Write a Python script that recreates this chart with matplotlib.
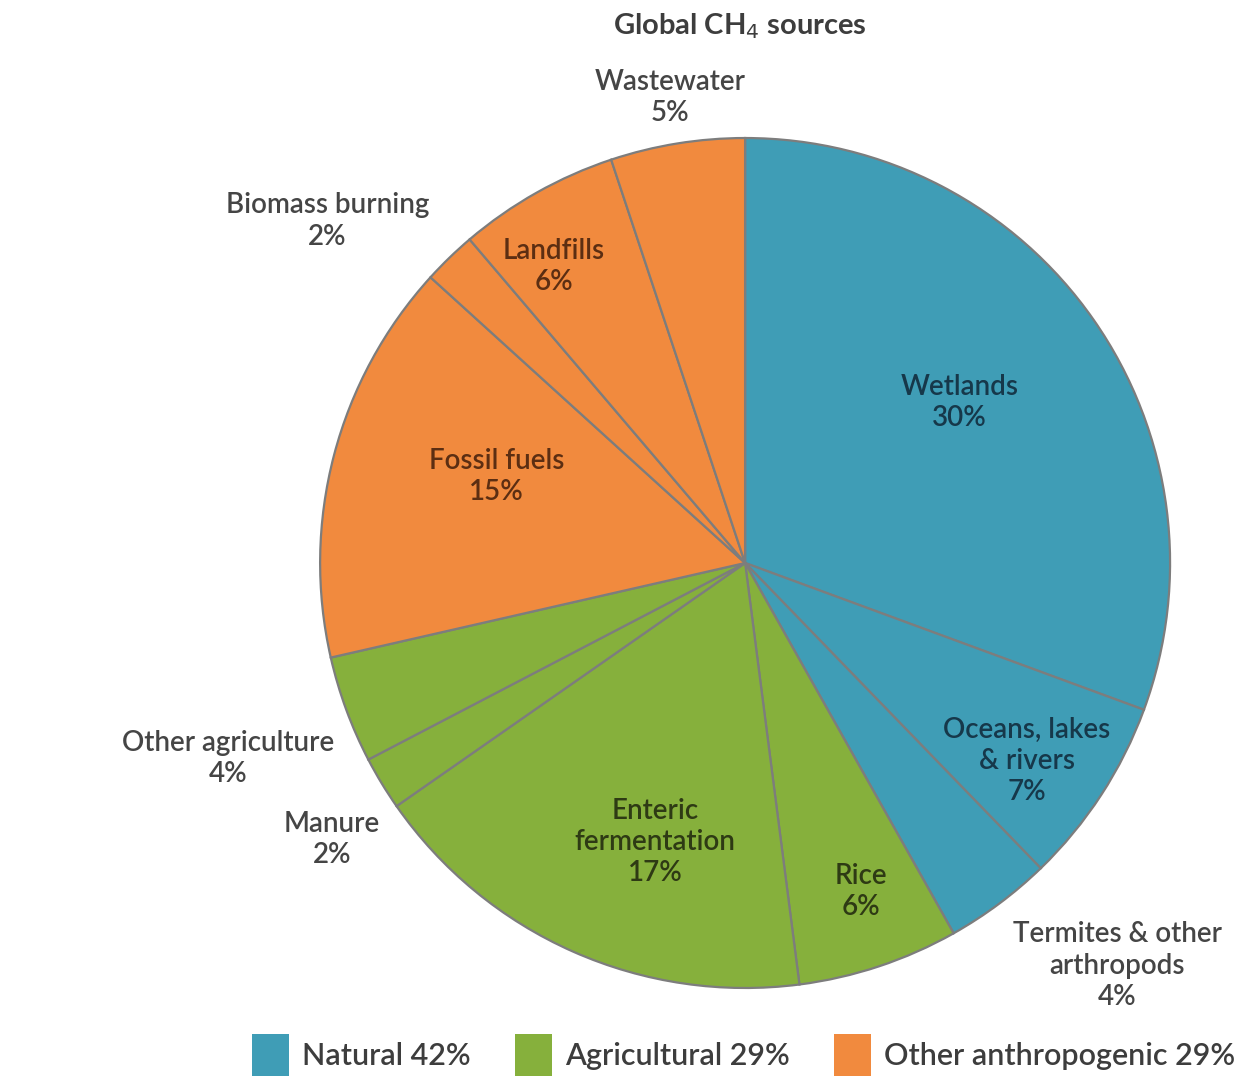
import matplotlib.pyplot as plt
import numpy as np
from matplotlib.patches import Patch

plt.rcParams['font.family'] = ['Lato', 'DejaVu Sans']

# Sources of methane, percent of the global total (clockwise from the top)
sources = ['Wetlands', 'Oceans, lakes\n& rivers', 'Termites & other\narthropods',
           'Rice', 'Enteric\nfermentation', 'Manure', 'Other agriculture',
           'Fossil fuels', 'Biomass burning', 'Landfills', 'Wastewater']
shares = [30, 7, 4, 6, 17, 2, 4, 15, 2, 6, 5]
groups = ['nat', 'nat', 'nat', 'agr', 'agr', 'agr', 'agr',
          'oth', 'oth', 'oth', 'oth']

group_names = ['Natural', 'Agricultural', 'Other anthropogenic']
group_shares = [42, 29, 29]

fill = {'nat': '#3f9db6', 'agr': '#86b03c', 'oth': '#f18a3e'}
ink = {'nat': '#16384a', 'agr': '#2e3a14', 'oth': '#5c2e12'}

# label placement: (radius, angle nudge in degrees, inside slice?)
placing = [(0.63, 2, True), (0.81, -2, True), (1.29, 6, False),
           (0.82, 1, True), (0.69, 6, True), (1.17, 2.6, False),
           (1.30, 0.5, False), (0.62, -4.5, True), (1.27, 6.6, False),
           (0.83, 3.5, True), (1.11, 0, False)]

fig = plt.figure(figsize=(12.41, 10.8), dpi=100)
ax = fig.add_axes([0.2579, 0.0852, 0.685, 0.787])

wedges, _ = ax.pie(shares, colors=[fill[g] for g in groups], startangle=90,
                   counterclock=False,
                   wedgeprops=dict(edgecolor='#7d7d7d', linewidth=1.6))
ax.set_xlim(-1.0, 1.0)
ax.set_ylim(-1.0, 1.0)

for w, name, val, grp, (r, nudge, inside) in zip(wedges, sources, shares,
                                                  groups, placing):
    mid = np.deg2rad((w.theta1 + w.theta2) / 2 + nudge)
    ax.text(r * np.cos(mid), r * np.sin(mid), f'{name}\n{val}%',
            ha='center', va='center', fontsize=20, linespacing=1.25,
            fontweight='semibold',
            color=ink[grp] if inside else '#454545', clip_on=False)

fig.text(0.596, 0.976, 'Global CH$_4$ sources', ha='center', va='center',
         fontsize=21, fontweight='bold', color='#3d3d3d')

handles = [Patch(facecolor=fill[g], edgecolor='none') for g in ['nat', 'agr', 'oth']]
labels = [f'{n} {s}%' for n, s in zip(group_names, group_shares)]
fig.legend(handles, labels, loc='center', bbox_to_anchor=(0.599, 0.023),
           ncol=3, frameon=False, prop=dict(size=22, weight='semibold'),
           handlelength=1.22, handleheight=1.75, handletextpad=0.42,
           columnspacing=1.45, labelcolor='#3d3d3d')

fig.savefig('out.png', dpi=100)
